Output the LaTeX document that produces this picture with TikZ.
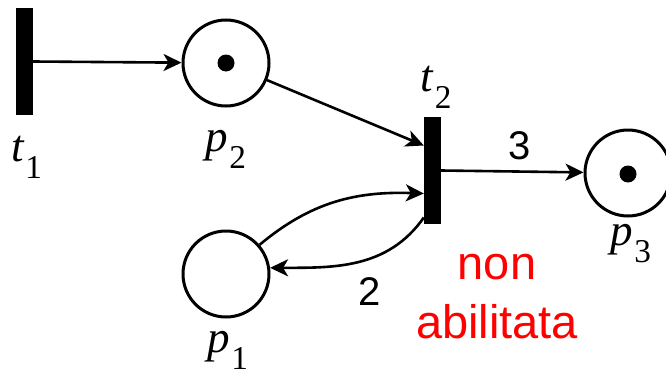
\documentclass[tikz,border=0pt]{standalone}
\usepackage{amsmath,amssymb}
\usepackage{fontspec}
\setmainfont{Liberation Serif}
\setsansfont{Liberation Sans}
\usepackage{xcolor}
\usepackage{tikz}
\usetikzlibrary{arrows.meta,positioning}
\definecolor{netBlack}{RGB}{0,0,0}
\definecolor{notEnabledRed}{RGB}{255,0,0}
\newcommand{\netname}[2]{\textit{#1}\kern0.02em\raisebox{-0.38em}{\scalebox{0.74}{#2}}}

\begin{document}
\begin{tikzpicture}[x=1pt, y=1pt,
  place/.style={circle, draw=netBlack, line width=3pt, minimum size=86pt, inner sep=0pt},
  transition/.style={rectangle, fill=netBlack, minimum width=17pt, minimum height=107pt, inner sep=0pt},
  token/.style={circle, fill=netBlack, minimum size=17pt, inner sep=0pt},
  arc/.style={line width=2.6pt, -{Stealth[length=18pt, width=17pt, inset=5pt]}},
  netlabel/.style={inner sep=0pt, font=\fontsize{45}{50}\selectfont},
  arcweight/.style={inner sep=0pt, font=\sffamily\fontsize{40}{44}\selectfont},
  status/.style={inner sep=0pt, align=center, text=notEnabledRed, font=\sffamily\fontsize{47}{59}\selectfont}]
\useasboundingbox (0,0) rectangle (666,376);
% places and transitions
\node[transition] (t1) at (24.5,314.5) {};
\node[place] (p2) at (226,313) {};
\node[place] (p1) at (226,102) {};
\node[transition] (t2) at (432.5,205.5) {};
\node[place] (p3) at (628,203) {};
\node[token] (tok2) at (p2) {};
\node[token] (tok3) at (628,202) {};
% labels
\node[netlabel] (t1lab) at (26.5,218.5) {\netname{t}{1}};
\node[netlabel] (p2lab) at (226,227) {\netname{p}{2}};
\node[netlabel] (t2lab) at (436,288.5) {\netname{t}{2}};
\node[netlabel] (p1lab) at (228,26) {\netname{p}{1}};
\node[netlabel] (p3lab) at (631,132) {\netname{p}{3}};
% arcs
\draw[arc] (t1.east) -- (p2);
\draw[arc] (p2) -- ([yshift=25pt]t2.west);
\draw[arc] (t2.east) -- (p3);
\draw[arc] (p1.41) to[out=40, in=178] ([yshift=-23pt]t2.west);
\draw[arc] ([yshift=-47pt]t2.west) to[out=235, in=0] (p1.8);
\node[arcweight] (w3) at (520,230) {3};
\node[arcweight] (w2) at (370,84) {2};
\node[status] (enab) at (497,79) {non\\abilitata};
\end{tikzpicture}
\end{document}
